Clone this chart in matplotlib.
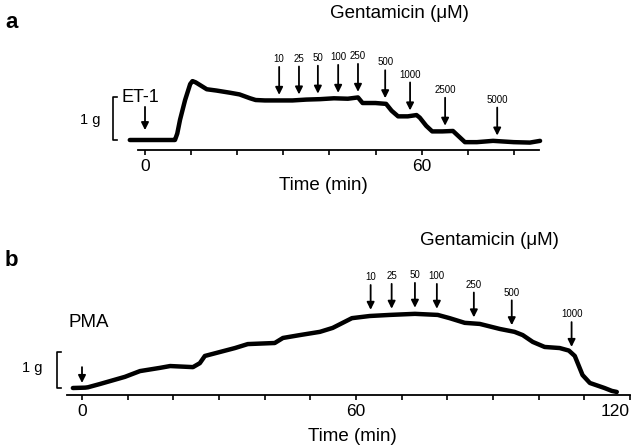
import numpy as np
import matplotlib
matplotlib.use('Agg')
import matplotlib.pyplot as plt
from matplotlib.ticker import FixedLocator

plt.rcParams['font.family'] = ['Liberation Sans', 'DejaVu Sans']

# panel a: ET-1 contraction, gentamicin added cumulatively
a_time = [-3.3, 6.0, 6.5, 7.0, 7.6, 8.7, 9.8, 10.3, 11.0, 11.9, 13.4, 15.5, 18.4,
          20.5, 22.8, 24.0, 26, 29, 32, 35, 38, 41, 44, 46.2, 47.2, 50, 52.3,
          53.5, 54.9, 57, 58.9, 59.6, 61, 62.3, 64.5, 66.8, 68.2, 69.4, 72,
          75.5, 77, 80, 83.5, 85.7]
a_tension = [0, 0, 0, 0.15, 0.47, 0.93, 1.30, 1.37, 1.34, 1.28, 1.18, 1.15, 1.10,
             1.06, 0.97, 0.93, 0.92, 0.92, 0.92, 0.94, 0.95, 0.97, 0.96, 0.99, 0.86,
             0.86, 0.84, 0.68, 0.55, 0.55, 0.58, 0.52, 0.33, 0.20, 0.20, 0.21,
             0.07, -0.05, -0.05, -0.02, -0.03, -0.05, -0.06, -0.02]
a_dose_time = [29.1, 33.4, 37.5, 41.9, 46.2, 52.1, 57.5, 65.1, 76.4]
a_dose_label = ['10', '25', '50', '100', '250', '500', '1000', '2500', '5000']
a_ticks = [0, 60]

# panel b: PMA contraction
b_time = [-2.0, 0.7, 1.3, 3.9, 9.4, 12.7, 17.1, 19.3, 24.3, 25.8, 26.9, 30.2, 33.5,
          36.3, 42.2, 44.0, 47.7, 52.1, 54.9, 59.1, 63.0, 67.4, 72.9, 77.9, 80.5,
          83.8, 87.1, 91.5, 94.7, 96.5, 98.7, 101.3, 104.6, 106.6, 107.9, 109.6,
          111.2, 114.4, 116.0, 117.1]
b_tension = [0, 0.01, 0.02, 0.11, 0.31, 0.47, 0.56, 0.61, 0.58, 0.69, 0.89, 1.0, 1.11,
             1.22, 1.25, 1.39, 1.47, 1.56, 1.67, 1.94, 2.0, 2.03, 2.06, 2.03, 1.94,
             1.81, 1.78, 1.64, 1.56, 1.47, 1.28, 1.14, 1.11, 1.04, 0.89, 0.36,
             0.14, 0.0, -0.08, -0.11]
b_dose_time = [63.2, 67.8, 72.9, 77.7, 85.8, 94.1, 107.2]
b_dose_label = ['10', '25', '50', '100', '250', '500', '1000']
b_ticks = [0, 60, 120]

W, H = 640, 446
fig = plt.figure(figsize=(W / 100, H / 100), dpi=100)

ARROW = dict(arrowstyle='-|>', color='black', lw=1.3, mutation_scale=11,
             shrinkA=0, shrinkB=0)


def place(x0, sx, y0, sy, xlim, ylim, span, major):
    # x0/y0: pixel of t=0 / g=0, sx/sy: pixels per min / per g
    left = x0 + sx * xlim[0]
    right = x0 + sx * xlim[1]
    top = y0 - sy * ylim[1]
    bottom = y0 - sy * ylim[0]
    ax = fig.add_axes([left / W, 1 - bottom / H, (right - left) / W, (bottom - top) / H])
    ax.set_xlim(xlim)
    ax.set_ylim(ylim)
    ax.patch.set_alpha(0)
    for s in ['left', 'top', 'right']:
        ax.spines[s].set_visible(False)
    ax.spines['bottom'].set_linewidth(1.3)
    ax.spines['bottom'].set_bounds(*span)
    ax.set_yticks([])
    ax.xaxis.set_major_locator(FixedLocator(major))
    ax.xaxis.set_minor_locator(FixedLocator(np.arange(0, span[1] + 0.1, 10)))
    ax.tick_params(axis='x', which='both', direction='out', length=3.5, width=1.2, pad=3,
                   labelsize=12.5)
    return ax


def panel(ax, t, g, doses, labels, gap, length, label_size=7):
    ax.plot(t, g, color='black', lw=3.2, solid_capstyle='round', clip_on=False)
    for d, lab in zip(doses, labels):
        tip = np.interp(d, t, g) + gap
        ax.annotate('', xy=(d, tip), xytext=(d, tip + length), arrowprops=ARROW,
                    annotation_clip=False)
        ax.annotate(lab, xy=(d, tip + length), xytext=(0, 2), textcoords='offset points',
                    ha='center', va='bottom', fontsize=label_size, annotation_clip=False)


def bracket(ax, x, w, lo, hi):
    ax.plot([x + w, x, x, x + w], [hi, hi, lo, lo], color='black', lw=1.2, clip_on=False)


# ---- panel a
ax1 = place(145, 4.61, 140, 43, (-12, 90), (-0.233, 2.2), (-1.5, 85.5), a_ticks)
panel(ax1, a_time, a_tension, a_dose_time, a_dose_label, 0.13, 0.65)
ax1.annotate('', xy=(0, 0.23), xytext=(0, 0.77), arrowprops=ARROW)
ax1.text(-0.9, 0.98, 'ET-1', ha='center', va='center', fontsize=13)
bracket(ax1, -6.9, 0.9, 0, 1)
ax1.text(-9.6, 0.47, '1 g', ha='right', va='center', fontsize=10.5)
ax1.text(55.3, 2.95, 'Gentamicin (\u03bcM)', ha='center', va='center', fontsize=13.5)
ax1.text(38.6, -1.05, 'Time (min)', ha='center', va='center', fontsize=13.5)

# ---- panel b
ax2 = place(82, 4.567, 388, 36, (-10, 122), (-0.194, 2.8), (-3.3, 120), b_ticks)
panel(ax2, b_time, b_tension, b_dose_time, b_dose_label, 0.17, 0.69)
ax2.annotate('', xy=(0, 0.14), xytext=(0, 0.58), arrowprops=ARROW)
ax2.text(1.5, 1.83, 'PMA', ha='center', va='center', fontsize=13.5)
bracket(ax2, -5.5, 0.8, 0, 1)
ax2.text(-8.6, 0.55, '1 g', ha='right', va='center', fontsize=10.5)
ax2.text(89.3, 4.11, 'Gentamicin (\u03bcM)', ha='center', va='center', fontsize=13.5)
ax2.text(59.1, -1.36, 'Time (min)', ha='center', va='center', fontsize=13.5)
ax2.get_xticklabels()[-1].set_horizontalalignment('right')

fig.text(5 / W, 1 - 22 / H, 'a', ha='left', va='center', fontsize=16, weight='bold')
fig.text(5 / W, 1 - 260 / H, 'b', ha='left', va='center', fontsize=16, weight='bold')

fig.savefig('out.png', dpi=100)
